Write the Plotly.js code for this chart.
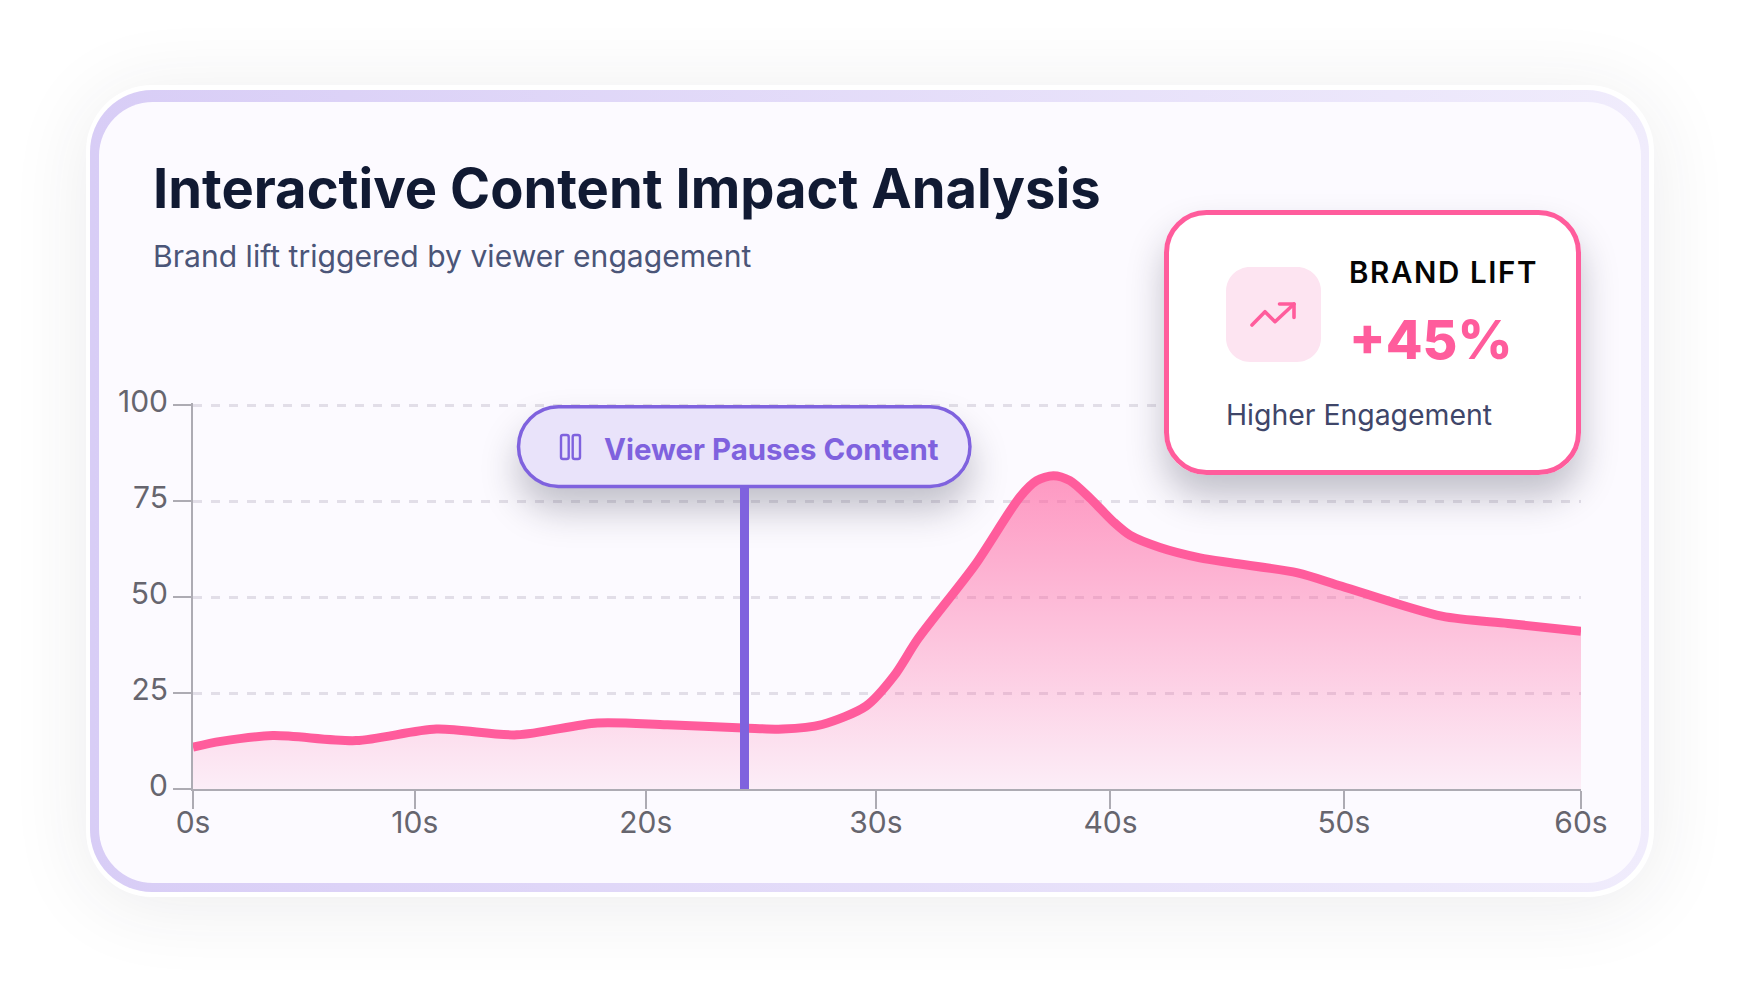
<!DOCTYPE html>
<html>
<head>
<meta charset="utf-8">
<script src="https://cdn.plot.ly/plotly-3.0.1.min.js"></script>
<style>
html,body{margin:0;padding:0;background:#fff;width:1741px;height:982px;overflow:hidden;font-family:Inter,sans-serif}
.abs{position:absolute;box-sizing:border-box}
#ring{left:86px;top:85px;width:1568px;height:812px;border-radius:66px;background:#fff;box-shadow:0 8px 80px rgba(40,40,60,.09)}
#grad{left:90px;top:90px;width:1559px;height:802px;border-radius:62px;background:linear-gradient(90deg,#d8cdf6,#f0ecfc)}
#inner{left:99px;top:102px;width:1542px;height:781px;border-radius:54px;background:#fcfaff}
#s1{left:517px;top:405px;width:455px;height:83px;border-radius:42px;box-shadow:0 22px 36px rgba(30,30,55,.26)}
#s2{left:1164px;top:210px;width:417px;height:265px;border-radius:42px;box-shadow:0 22px 36px rgba(30,30,55,.26)}
#chart{left:0;top:0;width:1741px;height:982px}
svg text[data-unformatted="BRAND LIFT"]{letter-spacing:1.6px}
.shapelayer path{stroke-linecap:round;stroke-linejoin:round}
</style>
</head>
<body>
<div class="abs" id="ring"></div>
<div class="abs" id="grad"></div>
<div class="abs" id="inner"></div>
<div class="abs" id="s1"></div>
<div class="abs" id="s2"></div>
<div class="abs" id="chart"></div>
<script>
// ---- data ----
const timePos   = [0, 1.2, 3.45, 7.05, 10.52, 14.0, 17.48, 20.5, 23.8, 25.5, 27.2, 29.1, 30.3, 31.35, 33.8, 35.75, 36.47, 37.19, 37.91, 38.78, 39.78, 40.5, 41.8, 43.53, 44.87, 47.75, 49.66, 53.98, 56.85, 60];
const engagement= [10.9, 12.4, 13.9, 12.6, 15.6, 14.1, 17.2, 16.7, 15.9, 15.6, 16.8, 21.6, 29.4, 39.2, 58.3, 76.1, 80.3, 81.6, 80.3, 75.7, 69.6, 66.1, 62.9, 60.2, 58.9, 56.3, 52.8, 45, 43.1, 41.1];
const xTickVals = [0, 9.59, 19.57, 29.52, 39.66, 49.75, 60];
const xTickText = ['0s','10s','20s','30s','40s','50s','60s'];
const yTickVals = [0, 25, 50, 75, 100];
const pauseTime = 23.84;
const pauseTop  = 78.5;
const yTop      = 100.52;

// ---- layout helpers (page pixels to paper fractions) ----
const L=193, R=1581, B=789, T=403;
const px=v=>(v-L)/(R-L), py=v=>(B-v)/(B-T);
const P=(x,y)=>px(x).toFixed(5)+','+py(y).toFixed(5);
function rr(x0,y0,x1,y1,r){
  const k=r*0.4477;
  return 'M'+P(x0+r,y0)+' L'+P(x1-r,y0)+
   ' C'+P(x1-k,y0)+' '+P(x1,y0+k)+' '+P(x1,y0+r)+
   ' L'+P(x1,y1-r)+
   ' C'+P(x1,y1-k)+' '+P(x1-k,y1)+' '+P(x1-r,y1)+
   ' L'+P(x0+r,y1)+
   ' C'+P(x0+k,y1)+' '+P(x0,y1-k)+' '+P(x0,y1-r)+
   ' L'+P(x0,y0+r)+
   ' C'+P(x0,y0+k)+' '+P(x0+k,y0)+' '+P(x0+r,y0)+' Z';
}
function poly(pts){return 'M'+pts.map(p=>P(p[0],p[1])).join(' L');}
const paperShape=(path,fill,line,w)=>({type:'path',xref:'paper',yref:'paper',layer:'above',path,fillcolor:fill,line:{color:line,width:w}});
function label(text,x,y,size,weight,color){
  return {text,xref:'paper',yref:'paper',x:px(x),y:py(y),xanchor:'left',yanchor:'middle',showarrow:false,
          font:{family:'Inter',size,weight,color},borderpad:0};
}

const PINK='#ff5c9c', PURPLE='#7f62de';

const trace={
  x:timePos,y:engagement,type:'scatter',mode:'lines',
  line:{color:PINK,width:9,shape:'spline',smoothing:0.8},
  fill:'tozeroy',
  fillgradient:{type:'vertical',colorscale:[[0,'rgba(255,92,156,0.08)'],[1,'rgba(255,92,156,0.62)']]},
  hoverinfo:'skip',showlegend:false
};

const layout={
  width:1741,height:982,
  margin:{l:L,r:1741-R,t:T,b:982-B,pad:0},
  paper_bgcolor:'rgba(0,0,0,0)',plot_bgcolor:'rgba(0,0,0,0)',
  showlegend:false,hovermode:false,
  title:{text:'Interactive Content Impact Analysis',xref:'container',yref:'container',
         x:153/1741,xanchor:'left',y:1-188.5/982,yanchor:'middle',
         font:{family:'Inter',size:54.3,weight:700,color:'#111a33'}},
  xaxis:{range:[0,60],tickmode:'array',tickvals:xTickVals,ticktext:xTickText,
         showline:true,linecolor:'#adabb3',linewidth:2,ticks:'outside',ticklen:18,tickwidth:2,tickcolor:'#adabb3',
         ticklabelstandoff:-12,
         showgrid:false,zeroline:false,tickfont:{family:'Inter',size:30,color:'#66656e'}},
  yaxis:{range:[0,yTop],tickmode:'array',tickvals:yTickVals,
         showline:true,linecolor:'#adabb3',linewidth:2,ticks:'outside',ticklen:18,tickwidth:2.5,tickcolor:'#adabb3',
         ticklabelstandoff:-1,ticklabelshift:-4,
         showgrid:true,gridcolor:'rgba(70,60,90,0.14)',gridwidth:3,griddash:'9px,9px',zeroline:false,
         tickfont:{family:'Inter',size:30,color:'#66656e'}},
  shapes:[
    {type:'line',xref:'x',yref:'y',x0:pauseTime,x1:pauseTime,y0:0,y1:pauseTop,layer:'above',line:{color:PURPLE,width:9}},
    paperShape(rr(518.5,406.7,970,486.5,40),'#e9e3fa',PURPLE,3.5),
    paperShape(rr(561,435,568.7,459,2),'rgba(0,0,0,0)',PURPLE,2.4),
    paperShape(rr(572.7,435,580,459,2),'rgba(0,0,0,0)',PURPLE,2.4),
    paperShape(rr(1166.5,212.5,1578.5,472.5,40),'#ffffff',PINK,5),
    paperShape(rr(1226,267,1321,362,24),'#fde4f1','rgba(0,0,0,0)',0),
    paperShape(poly([[1252,325],[1265,311.7],[1275,321.7],[1294,304]]),'rgba(0,0,0,0)',PINK,3.6),
    paperShape(poly([[1279.5,304],[1294,304],[1294,317.5]]),'rgba(0,0,0,0)',PINK,3.6)
  ],
  annotations:[
    label('Brand lift triggered by viewer engagement',151.5,256,30.1,400,'#4b5578'),
    label('Viewer Pauses Content',603,449,29.4,700,PURPLE),
    label('BRAND LIFT',1348,272,29.5,600,'#050505'),
    label('+45%',1348,339,53.5,800,PINK),
    label('Higher Engagement',1225,414.5,28.4,400,'#3f4669')
  ]
};
Plotly.newPlot('chart',[trace],layout,{displayModeBar:false,staticPlot:true,responsive:false});
</script>
</body>
</html>
